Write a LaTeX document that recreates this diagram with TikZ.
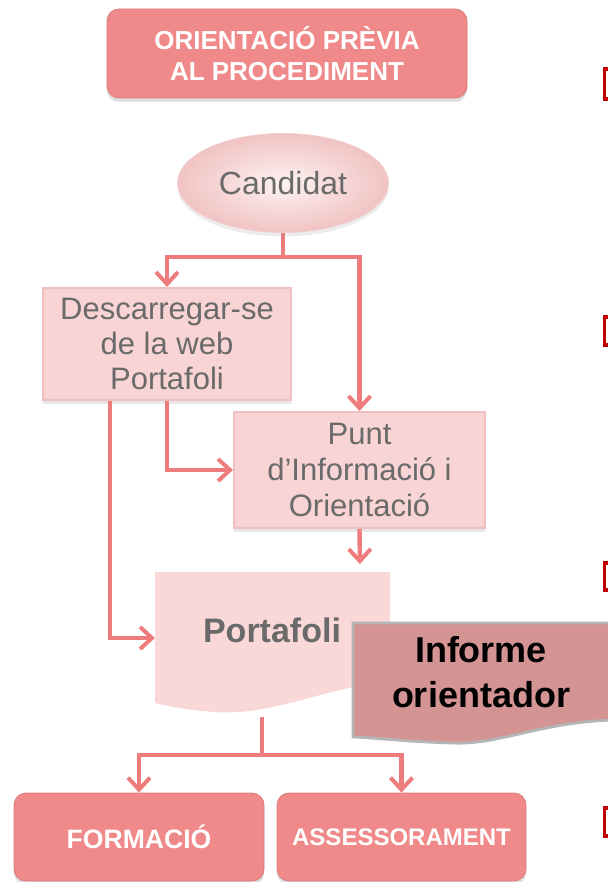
\documentclass[tikz,border=0pt]{standalone}
\usepackage{fontspec}
\setmainfont{Liberation Sans}
\usetikzlibrary{arrows.meta,shapes.geometric,shadows,calc}
\definecolor{salmon}{HTML}{F08A8A}
\definecolor{paleA}{HTML}{F9D4D4}
\definecolor{paleB}{HTML}{F0C0C0}
\definecolor{docfill}{HTML}{FAD8D8}
\definecolor{linecol}{HTML}{EE7C7C}
\definecolor{graytxt}{HTML}{6A6A6A}
\definecolor{rose}{HTML}{D49494}
\definecolor{rosebd}{HTML}{B5B5B5}
\definecolor{markred}{HTML}{C00000}
\tikzset{
  redbox/.style={rectangle, rounded corners=6pt, fill=salmon, draw=salmon!90!black, line width=0.4pt,
    text=white, align=center, inner sep=0pt,
    drop shadow={opacity=0.25, shadow xshift=0pt, shadow yshift=-2pt}},
  palebox/.style={rectangle, fill=paleA, draw=paleB, line width=1pt, text=graytxt, align=center,
    inner sep=0pt, font=\fontsize{15.5}{17.5}\selectfont,
    drop shadow={opacity=0.18, shadow xshift=0pt, shadow yshift=-2pt}},
  conn/.style={draw=linecol, line width=2.2pt},
  arr/.style={-{Straight Barb[length=6pt,width=11pt,line width=2pt]}},
  redmark/.style={draw=markred, line width=1.6pt},
}
\begin{document}
\begin{tikzpicture}[x=0.5pt,y=-0.5pt]
\useasboundingbox (0,0) rectangle (608,882);
\clip (0,0) rectangle (608,882);
\fill[white] (0,0) rectangle (608,882);

% top title
\node[redbox, minimum width=180pt, minimum height=44.5pt,
  font=\bfseries\fontsize{13}{15.5}\selectfont] (title) at (287,53.5) {ORIENTACIÓ PRÈVIA\\AL PROCEDIMENT};

% candidat
\node[ellipse, inner sep=0pt, minimum width=105.5pt, minimum height=49.5pt,
  inner color=white!70!paleA, outer color=paleB!85!paleA, draw=paleB!80!white,
  text=graytxt, font=\fontsize{16}{18}\selectfont,
  drop shadow={opacity=0.15, shadow xshift=0pt, shadow yshift=-2pt}] (cand) at (283,183) {Candidat};

% descarregar
\node[palebox, minimum width=124pt, minimum height=56pt] (desc) at (167,344)
  {Descarregar-se\\de la web\\Portafoli};

% punt
\node[palebox, minimum width=125.5pt, minimum height=58pt, font=\fontsize{15.5}{18}\selectfont] (punt) at (359.5,470)
  {Punt\\d’Informació i\\Orientació};

% portafoli document shape
\fill[docfill] (155,572) -- (390,572) -- (390,680)
  .. controls (320,690) and (270,716) .. (215,712)
  .. controls (185,710) and (168,706) .. (155,703) -- cycle;
\node[text=graytxt, font=\bfseries\fontsize{17}{19}\selectfont] (doc) at (272,630) {Portafoli};
\coordinate (docT) at (360,572);
\coordinate (docL) at (155,638);
\coordinate (docB) at (262,717);

% informe orientador
\path[fill=rose, draw=rosebd, line width=1.4pt] (353,623) -- (614,623) -- (614,720)
  .. controls (540,722) and (500,745) .. (453,743)
  .. controls (410,742) and (380,738) .. (353,737) -- cycle;
\node[align=center, text=black, font=\bfseries\fontsize{18}{22.5}\selectfont] (inf) at (481,672) {Informe\\orientador};

% bottom boxes
\node[redbox, minimum width=125pt, minimum height=44pt, font=\bfseries\fontsize{13.3}{15}\selectfont] (form) at (139,837) {FORMACIÓ};
\node[redbox, minimum width=124.5pt, minimum height=44pt, font=\bfseries\fontsize{12}{14}\selectfont] (ass) at (401.5,837) {ASSESSORAMENT};

% connectors
\coordinate (s1) at (283,257);
\draw[conn] (cand.south) -- (s1);
\draw[conn,arr] (s1) -| (desc.north);
\draw[conn,arr] (s1) -| (punt.north);
\draw[conn,arr] (desc.south) |- (punt.west);
\draw[conn,arr] ([xshift=-28.5pt]desc.south) |- (docL);
\draw[conn,arr,shorten >=4pt] (punt.south) -- (docT);
\coordinate (s2) at (262,755);
\draw[conn] (docB) -- (s2);
\draw[conn,arr] (s2) -| (form.north);
\draw[conn,arr] (s2) -| (ass.north);

% red marks on right edge
\draw[redmark] (616,69) -- (604.5,69) -- (604.5,99) -- (616,99);
\draw[redmark] (616,317) -- (604.5,317) -- (604.5,345) -- (616,345);
\draw[redmark] (616,563) -- (604.5,563) -- (604.5,590) -- (616,590);
\draw[redmark] (616,808) -- (604.5,808) -- (604.5,836) -- (616,836);
\end{tikzpicture}
\end{document}
